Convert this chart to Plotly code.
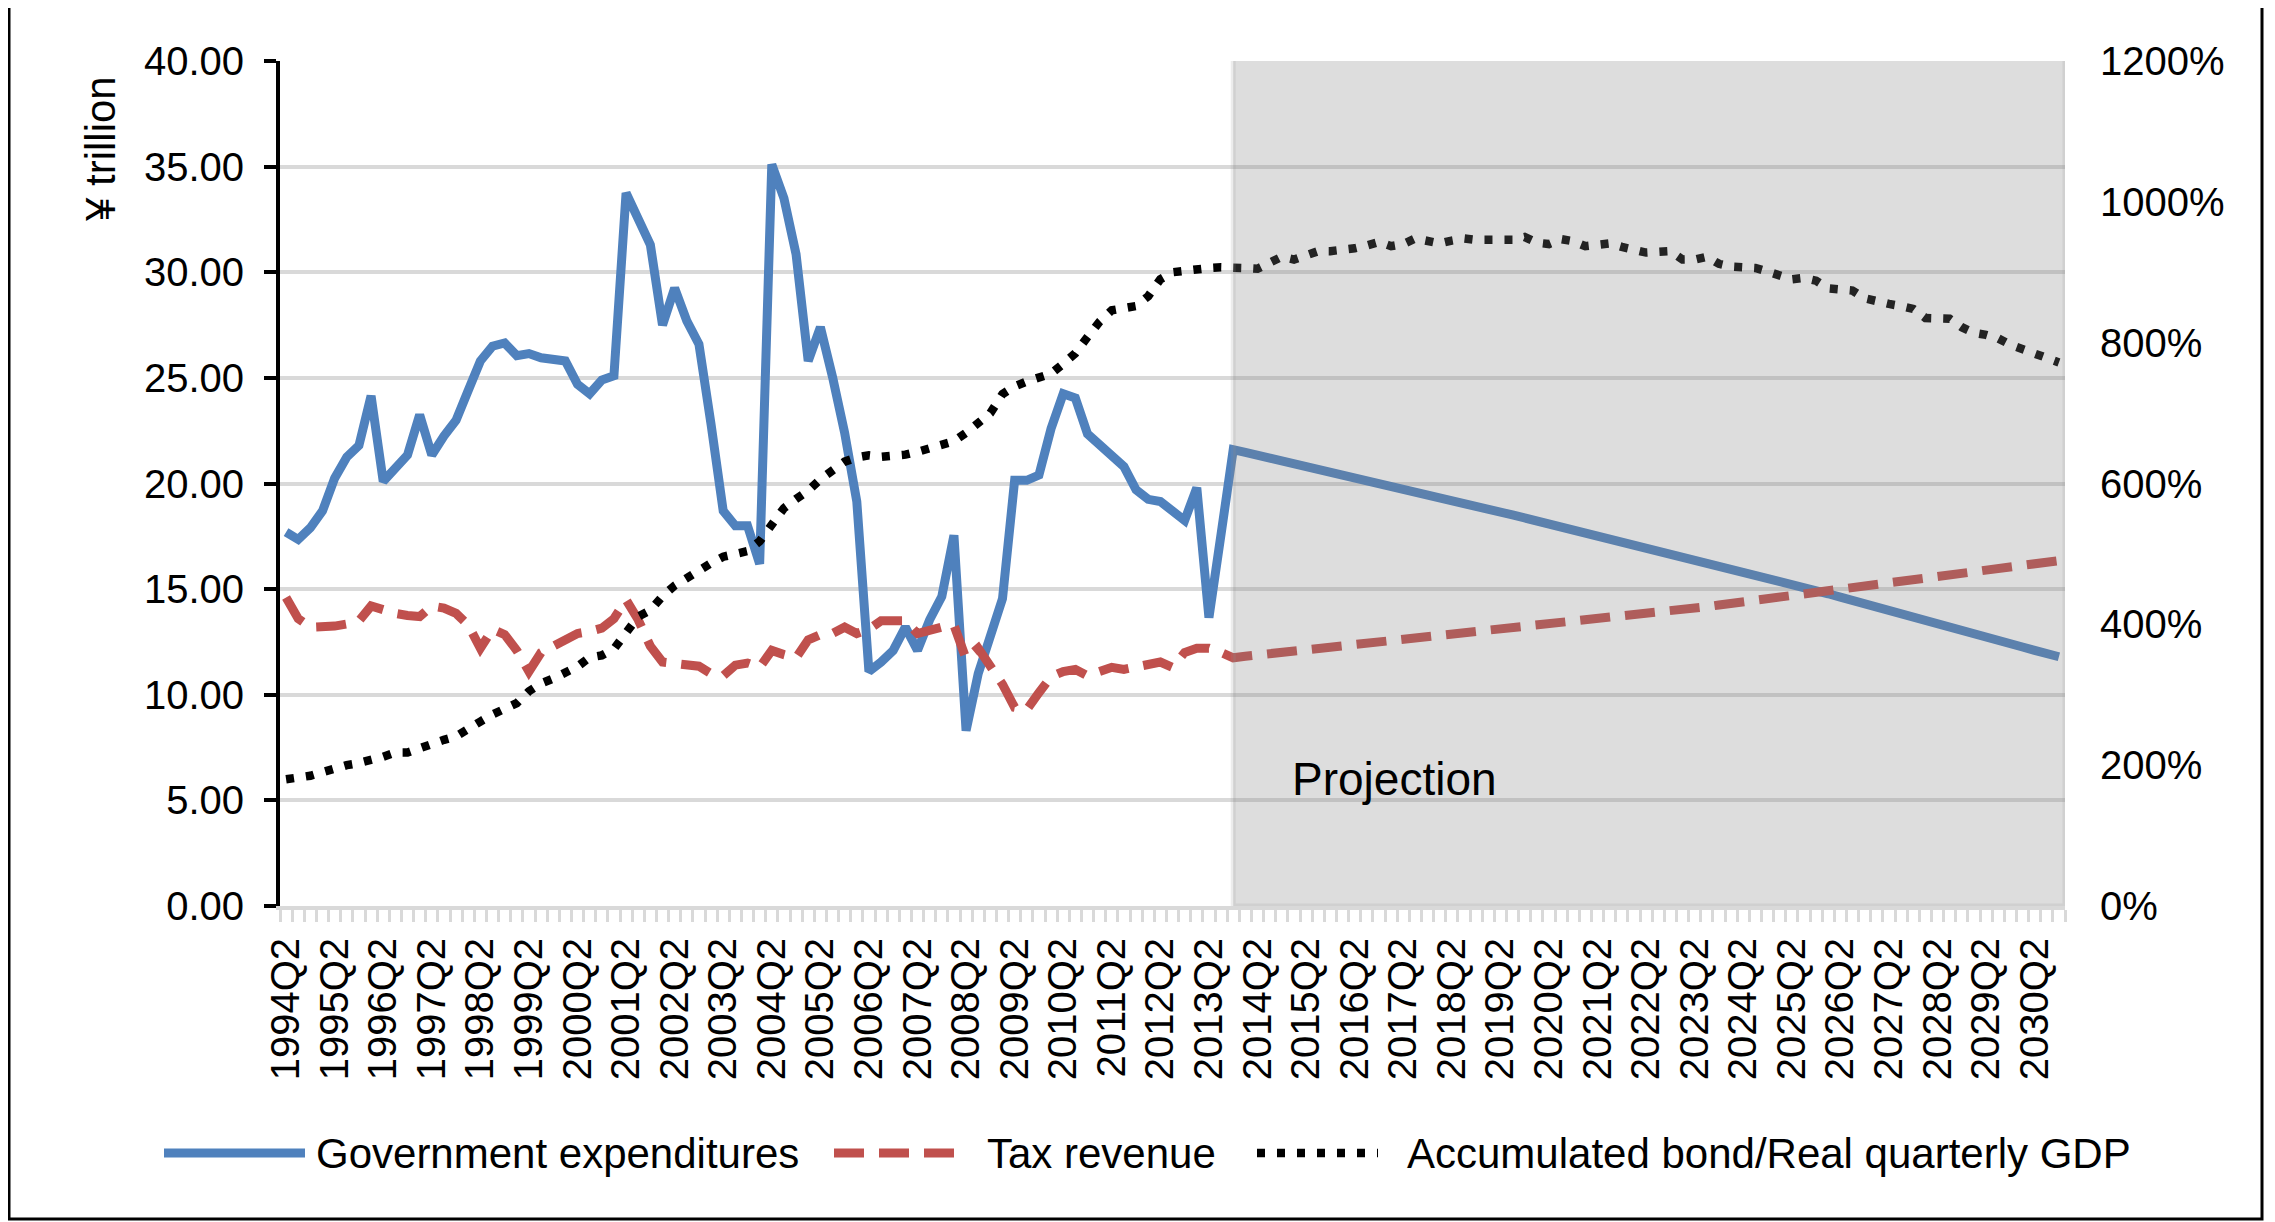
"""
Japan fiscal projection chart: government expenditures, tax revenue (yen trillion)
and accumulated bond / real quarterly GDP (%), 1994Q2-2030Q4, projection shaded.
"""

import plotly.graph_objects as go

# quarterly categories, 1994Q2 .. 2030Q4
FIRST_YEAR, FIRST_Q, N_QUARTERS = 1994, 2, 147
QUARTERS = [
    f"{FIRST_YEAR + (FIRST_Q - 1 + k) // 4}Q{(FIRST_Q - 1 + k) % 4 + 1}"
    for k in range(N_QUARTERS)
]
TICK_LABELS = QUARTERS[::4]
PROJECTION_START = "2013Q4"

# ¥ trillion, historical part (1994Q2-2013Q4) then projection
gov_expenditures = [
    17.70, 17.35, 17.90, 18.70, 20.25, 21.25, 21.80, 24.15, 20.10, 20.80,
    21.35, 23.25, 21.35, 22.25, 23.00, 24.40, 25.80, 26.50, 26.65, 26.05,
    26.15, 25.95, 25.90, 25.80, 24.70, 24.25, 24.90, 25.10, 33.75, 32.60,
    31.30, 27.50, 29.25, 27.70, 26.60, 22.80, 18.70, 18.00, 18.00, 16.20,
    35.10, 33.50, 30.85, 25.80, 27.40, 25.05, 22.40, 19.15, 11.10, 11.55,
    12.10, 13.20, 12.10, 13.55, 14.65, 17.55, 8.30, 11.00, 12.65, 14.55,
    20.15, 20.15, 20.40, 22.60, 24.25, 24.05, 22.35, 21.80, 21.35, 20.80,
    19.70, 19.25, 19.15, 18.70, 18.25, 19.80, 13.65, 17.60, 21.60,
    21.47, 21.34, 21.20, 21.07, 20.94, 20.80, 20.67, 20.53, 20.40, 20.27,
    20.13, 20.00, 19.86, 19.73, 19.60, 19.46, 19.33, 19.19, 19.05, 18.92,
    18.78, 18.64, 18.51, 18.37, 18.23, 18.09, 17.96, 17.82, 17.68, 17.54,
    17.40, 17.26, 17.11, 16.97, 16.82, 16.68, 16.54, 16.39, 16.25, 16.10,
    15.96, 15.81, 15.67, 15.52, 15.37, 15.22, 15.08, 14.93, 14.78, 14.62,
    14.47, 14.31, 14.15, 14.00, 13.84, 13.68, 13.52, 13.37, 13.21, 13.05,
    12.89, 12.73, 12.58, 12.42, 12.26, 12.10, 11.95, 11.80,
]

tax_revenue = [
    14.60, 13.60, 13.20, 13.20, 13.25, 13.35, 13.50, 14.20, 14.00, 13.85,
    13.75, 13.70, 14.20, 14.10, 13.85, 13.30, 12.20, 13.10, 12.85, 12.10,
    11.10, 12.00, 12.30, 12.60, 12.90, 13.00, 13.15, 13.60, 14.50, 13.55,
    12.30, 11.55, 11.45, 11.40, 11.35, 11.00, 10.90, 11.40, 11.50, 11.30,
    12.10, 11.90, 11.75, 12.60, 12.85, 12.90, 13.20, 12.90, 13.10, 13.50,
    13.55, 13.50, 12.90, 13.10, 13.20, 13.30, 11.70, 12.20, 11.40, 10.50,
    9.40, 9.30, 10.10, 10.85, 11.10, 11.20, 10.90, 11.10, 11.30, 11.20,
    11.30, 11.40, 11.55, 11.30, 12.00, 12.20, 12.20, 12.00, 11.75,
    11.82, 11.88, 11.94, 12.00, 12.05, 12.11, 12.17, 12.23, 12.29, 12.35,
    12.41, 12.47, 12.53, 12.59, 12.65, 12.71, 12.77, 12.83, 12.89, 12.95,
    13.01, 13.07, 13.13, 13.19, 13.25, 13.31, 13.37, 13.43, 13.49, 13.55,
    13.61, 13.67, 13.73, 13.80, 13.87, 13.95, 14.02, 14.10, 14.17, 14.25,
    14.32, 14.40, 14.47, 14.55, 14.62, 14.70, 14.77, 14.85, 14.92, 15.00,
    15.07, 15.15, 15.22, 15.30, 15.37, 15.45, 15.52, 15.60, 15.67, 15.75,
    15.82, 15.90, 15.97, 16.05, 16.12, 16.20, 16.27, 16.35,
]

# accumulated bond / real quarterly GDP, %
bond_to_gdp = [
    180, 182, 185, 190, 196, 200, 203, 206, 212, 218,
    218, 224, 231, 236, 241, 250, 262, 272, 280, 288,
    305, 316, 323, 330, 340, 353, 356, 365, 390, 411,
    420, 440, 455, 466, 478, 487, 496, 500, 504, 518,
    540, 565, 578, 590, 606, 618, 631, 637, 640, 638,
    638, 641, 645, 650, 655, 660, 672, 685, 700, 727,
    738, 745, 749, 756, 770, 785, 808, 830, 846, 850,
    852, 866, 890, 900, 903, 904, 906, 907, 908,
    906, 905, 915, 922, 918, 924, 930, 930, 931, 934,
    938, 943, 937, 940, 948, 945, 941, 945, 948, 946,
    945, 944, 946, 950, 942, 940, 947, 944, 937, 939,
    941, 936, 932, 928, 929, 930, 918, 918, 922, 912,
    908, 908, 906, 901, 895, 890, 892, 888, 877, 875,
    874, 863, 858, 855, 852, 848, 835, 833, 834, 822,
    814, 811, 806, 797, 790, 784, 778, 772,
]

BLUE = "#4F81BD"
RED = "#C0504D"
BLACK = "#000000"
GRID = "#D9D9D9"
FONT = "Liberation Sans, Arial, sans-serif"

# target picture is 2275 x 1222; the html body adds an 8px margin, so the
# figure itself is drawn 8px smaller and all positions below are page pixels
PAGE_W, PAGE_H, BODY_MARGIN = 2275, 1222, 8
FIG_W, FIG_H = PAGE_W - BODY_MARGIN, PAGE_H - BODY_MARGIN
PLOT_L, PLOT_R, PLOT_T, PLOT_B = 280, 2065, 61, 906
PLOT_W, PLOT_H = PLOT_R - PLOT_L, PLOT_B - PLOT_T

SERIES_STYLE = {
    "Government expenditures": dict(color=BLUE, width=9, dash="solid"),
    "Tax revenue": dict(color=RED, width=9, dash="30px,15px"),
    "Accumulated bond/Real quarterly GDP": dict(color=BLACK, width=8.5, dash="8px,12px"),
}


def paper_x(px: float) -> float:
    return (px - PLOT_L) / PLOT_W


def paper_y(px: float) -> float:
    return (PLOT_B - px) / PLOT_H


def build_figure() -> go.Figure:
    idx = list(range(len(QUARTERS)))
    fig = go.Figure()

    fig.add_trace(go.Scatter(
        x=idx, y=gov_expenditures, mode="lines", name="Government expenditures",
        line=SERIES_STYLE["Government expenditures"], customdata=QUARTERS,
        hovertemplate="%{customdata}: %{y:.2f}<extra></extra>",
    ))
    fig.add_trace(go.Scatter(
        x=idx, y=tax_revenue, mode="lines", name="Tax revenue",
        line=SERIES_STYLE["Tax revenue"], customdata=QUARTERS,
        hovertemplate="%{customdata}: %{y:.2f}<extra></extra>",
    ))
    fig.add_trace(go.Scatter(
        x=idx, y=bond_to_gdp, mode="lines", name="Accumulated bond/Real quarterly GDP",
        line=SERIES_STYLE["Accumulated bond/Real quarterly GDP"], yaxis="y2",
        customdata=QUARTERS, hovertemplate="%{customdata}: %{y:.0f}%<extra></extra>",
    ))

    # projection shading, drawn over the lines like the original
    proj_x0 = QUARTERS.index(PROJECTION_START)
    fig.add_shape(
        type="rect", xref="x", yref="y", x0=proj_x0, x1=len(QUARTERS) - 0.5,
        y0=0, y1=40.2, layer="above",
        line=dict(width=5, color="rgba(150,150,150,0.18)"),
        fillcolor="rgba(128,128,128,0.27)",
    )
    fig.add_annotation(
        x=proj_x0 + 4.7, y=6.0, xref="x", yref="y", text="Projection",
        showarrow=False, xanchor="left", yanchor="middle",
        font=dict(size=46, color="black", family=FONT),
    )

    # y-axis title placed at the top-left like the source
    fig.add_annotation(
        x=paper_x(101), y=paper_y(149), xref="paper", yref="paper",
        text="¥ trillion", textangle=-90, showarrow=False,
        xanchor="center", yanchor="middle",
        font=dict(size=42, color="black", family=FONT),
    )

    # hand-placed legend row under the axis labels
    legend_y = paper_y(1153)
    legend_items = [
        ("Government expenditures", 164, 305, 314),
        ("Tax revenue", 834, 958, 985),
        ("Accumulated bond/Real quarterly GDP", 1257, 1378, 1405),
    ]
    for name, x0, x1, tx in legend_items:
        st = SERIES_STYLE[name]
        fig.add_shape(
            type="line", xref="paper", yref="paper",
            x0=paper_x(x0), x1=paper_x(x1), y0=legend_y, y1=legend_y,
            line=dict(color=st["color"], width=st["width"], dash=st["dash"]),
        )
        fig.add_annotation(
            x=paper_x(tx), y=legend_y, xref="paper", yref="paper", text=name,
            showarrow=False, xanchor="left", yanchor="middle",
            font=dict(size=42, color="black", family=FONT),
        )

    # outer frame
    fig.add_shape(
        type="rect", xref="paper", yref="paper",
        x0=paper_x(9), x1=paper_x(2262), y0=paper_y(1219), y1=paper_y(4),
        line=dict(color="black", width=3), layer="below",
    )

    fig.update_layout(
        width=FIG_W, height=FIG_H, autosize=False,
        margin=dict(l=PLOT_L - BODY_MARGIN, r=PAGE_W - PLOT_R,
                    t=PLOT_T - BODY_MARGIN, b=PAGE_H - PLOT_B, autoexpand=False),
        paper_bgcolor="white", plot_bgcolor="white",
        showlegend=False,
        font=dict(family=FONT, size=40, color="black"),
        xaxis=dict(
            range=[-0.5, len(QUARTERS) - 0.5],
            tickmode="array", tickvals=idx[::4], ticktext=TICK_LABELS,
            tickangle=-90, ticks="outside", ticklen=12, tickcolor="rgba(0,0,0,0)",
            showgrid=False, zeroline=False,
            showline=True, linecolor=GRID, linewidth=4,
            minor=dict(ticks="outside", tickmode="linear", tick0=-0.5, dtick=1,
                       ticklen=12, tickwidth=3, tickcolor=GRID, showgrid=False),
            tickfont=dict(size=40, family=FONT),
        ),
        yaxis=dict(
            range=[0, 40], dtick=5, tickformat=".2f",
            showgrid=True, gridcolor=GRID, gridwidth=4, zeroline=False,
            showline=True, linecolor="black", linewidth=4,
            ticks="outside", ticklen=12, tickwidth=4, tickcolor="black",
            ticklabelstandoff=12, tickfont=dict(size=40, family=FONT),
        ),
        yaxis2=dict(
            range=[0, 1200], dtick=200, ticksuffix="%", overlaying="y", side="right",
            showgrid=False, zeroline=False, showline=False, ticks="",
            ticklabelstandoff=34, tickfont=dict(size=40, family=FONT),
        ),
    )
    return fig


if __name__ == "__main__":
    fig = build_figure()
    fig.write_html("out.html")
